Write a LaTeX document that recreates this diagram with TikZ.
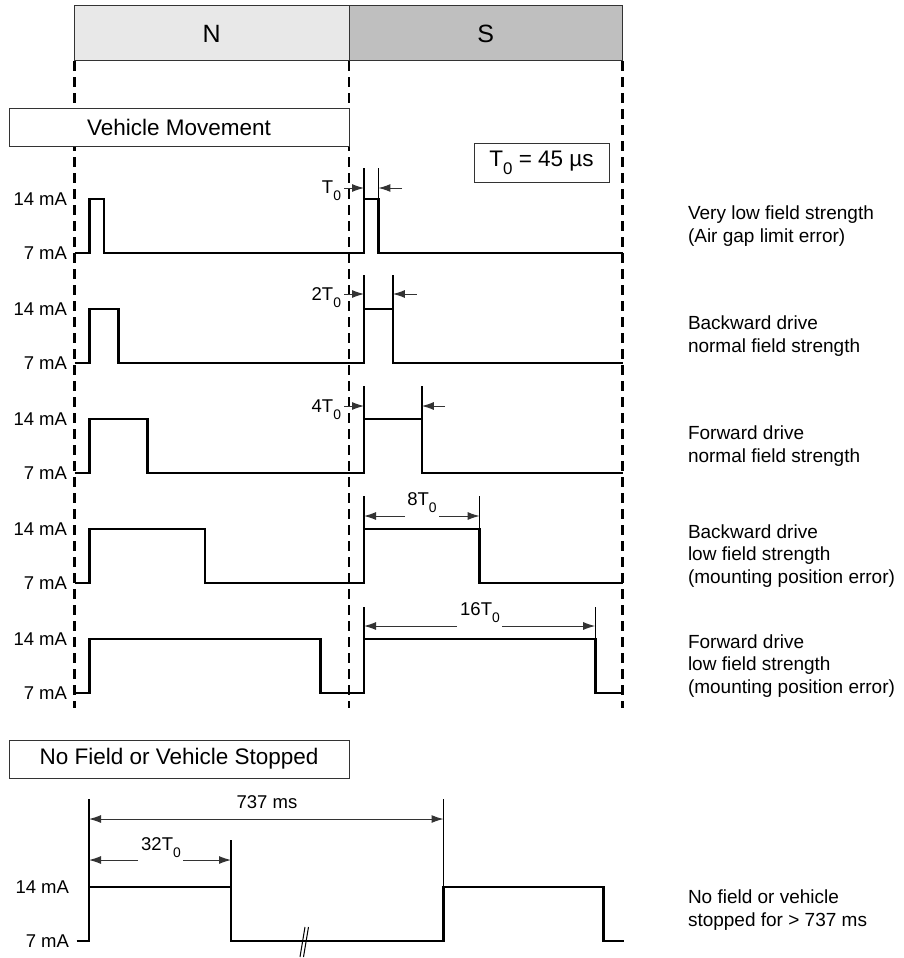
\documentclass[tikz,border=0pt]{standalone}
\usepackage{fontspec}
\setmainfont{Liberation Sans}
\usetikzlibrary{arrows.meta}
\newcommand{\Tn}{T\raisebox{-0.38em}{\scalebox{0.75}{0}}}

\begin{document}
\begin{tikzpicture}[
		x=1pt, y=-1pt,
		font=\fontsize{18.5}{22.5}\selectfont,
		every node/.style = {inner sep=0pt, outer sep=0pt},
		pole/.style={draw=black!80, line width=1pt, minimum height=55pt,
			font=\fontsize{25}{28}\selectfont},
		titlebox/.style={draw=black!80, fill=white, line width=1pt,
			minimum width=340pt, minimum height=38pt, font=\fontsize{22.5}{26}\selectfont},
		grid/.style={line width=2.6pt, dash pattern=on 10pt off 6pt},
		signal/.style={line width=2.6pt},
		tick/.style={line width=1.4pt},
		dim/.style={line width=1pt, black!80, -{Latex[length=12pt,width=8pt]}},
		level/.style={anchor=east},
		case/.style={anchor=west, align=left, font=\fontsize{19}{22.5}\selectfont},
		]
		\useasboundingbox (0,0) rectangle (904,958);
		
		\node[pole, fill=black!9, minimum width=274.5pt] (north) at (211.75,33.5) {N};
		\node[pole, fill=black!25, minimum width=273.5pt] (south) at (485.75,33.5) {S};
		\foreach \x in {74.5,349,622.5}
			\draw[grid] (\x,61) -- (\x,708);
		
		\node[titlebox] (moving) at (179,127) {Vehicle Movement};
		\node[draw=black!80, line width=1pt, minimum width=135pt, minimum height=39pt,
			font=\fontsize{22.5}{26}\selectfont] (period) at (541.5,162.8) {\Tn{} = 45 µs};
		
		\foreach \k [count=\i from 0] in {1,2,4,8,16} {
			\pgfmathsetmacro{\hi}{199+110*\i}
			\pgfmathsetmacro{\lo}{\hi+54}
			\node[level] (high\k) at (67,\hi) {14 mA};
			\node[level] (low\k) at (67,\lo) {7 mA};
			\draw[signal] (74.5,\lo) -- (89.5,\lo) -- (89.5,\hi) -- ({89.5+14.45*\k},\hi)
				-- ({89.5+14.45*\k},\lo) -- (364,\lo) -- (364,\hi) -- ({364+14.45*\k},\hi)
				-- ({364+14.45*\k},\lo) -- (622.5,\lo);
		}
		
		\draw[tick] (364,168) -- (364,199) (378.45,168) -- (378.45,199);
		\draw[dim] (344,188) -- (364,188);
		\draw[dim] (402,188) -- (378.45,188);
		\node[anchor=base east] (one) at (341,193) {\Tn};
		
		\draw[tick] (364,275) -- (364,309) (392.9,275) -- (392.9,309);
		\draw[dim] (344,294) -- (364,294);
		\draw[dim] (416.5,294) -- (392.9,294);
		\node[anchor=base east] (two) at (341,300) {2\Tn};
		
		\draw[tick] (364,386) -- (364,419) (421.8,386) -- (421.8,419);
		\draw[dim] (344,406) -- (364,406);
		\draw[dim] (445,406) -- (421.8,406);
		\node[anchor=base east] (four) at (341,412) {4\Tn};
		
		\draw[tick] (364,496) -- (364,529) (479.6,496) -- (479.6,529);
		\node[anchor=base] (eight) at (422,505) {8\Tn};
		\draw[dim] (405,516) -- (364,516);
		\draw[dim] (439,516) -- (479.6,516);
		
		\draw[tick] (364,607) -- (364,639) (595.2,607) -- (595.2,639);
		\node[anchor=base] (sixteen) at (480,615) {16\Tn};
		\draw[dim] (457,626) -- (364,626);
		\draw[dim] (502,626) -- (595.2,626);
		
		\node[case] (c1) at (688,226) {Very low field strength\\(Air gap limit error)};
		\node[case] (c2) at (688,336) {Backward drive\\normal field strength};
		\node[case] (c3) at (688,446) {Forward drive\\normal field strength};
		\node[case] (c4) at (688,556) {Backward drive\\low field strength\\(mounting position error)};
		\node[case] (c5) at (688,666) {Forward drive\\low field strength\\(mounting position error)};
		
		\node[titlebox] (stopped) at (179,759) {No Field or Vehicle Stopped};
		\node[level] (high32) at (69,887) {14 mA};
		\node[level] (low32) at (69,941) {7 mA};
		\draw[signal] (76.5,941) -- (89,941) -- (89,887) -- (231,887) -- (231,941) -- (443.5,941)
			-- (443.5,887) -- (603.3,887) -- (603.3,941) -- (623.7,941);
		\draw[line width=1pt] (300,957) -- (305,927) (303.5,957) -- (308.5,927);
		\draw[tick] (89,799) -- (89,887) (443.5,799) -- (443.5,887) (231,840) -- (231,887);
		\draw[dim, {Latex[length=12pt,width=8pt]}-{Latex[length=12pt,width=8pt]}] (89,819) -- (443.5,819);
		\node[anchor=base] (span) at (267,808) {737 ms};
		\node[anchor=base] (thirtytwo) at (161,850) {32\Tn};
		\draw[dim] (138,860) -- (89,860);
		\draw[dim] (183,860) -- (231,860);
		\node[case] (c6) at (688,910) {No field or vehicle\\stopped for > 737 ms};
		\end{tikzpicture}
\end{document}
